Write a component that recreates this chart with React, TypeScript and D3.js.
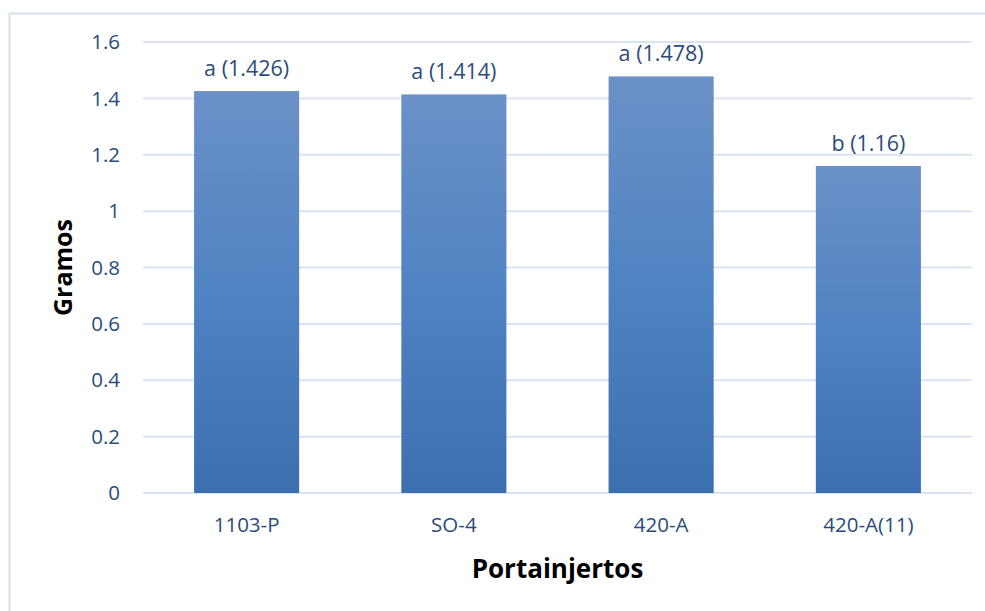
import React from 'react';
import * as d3 from 'd3';

const categories = ['1103-P', 'SO-4', '420-A', '420-A(11)'];
const values = [1.426, 1.414, 1.478, 1.16];
const letters = ['a', 'a', 'a', 'b'];
const yTicks = [0, 0.2, 0.4, 0.6, 0.8, 1, 1.2, 1.4, 1.6];

const W = 985;
const H = 611;
const plot = { left: 143, right: 972, top: 42, bottom: 493 };
const textColor = '#2b4c7b';
const font = "'Open Sans', sans-serif";

const App = () => {
    const x = d3.scaleBand()
        .domain(categories)
        .range([plot.left, plot.right])
        .paddingInner(0.493)
        .paddingOuter(0.2465);

    const y = d3.scaleLinear()
        .domain([0, 1.6])
        .range([plot.bottom, plot.top]);

    return (
        <svg width={W} height={H} style={{ position: 'absolute', left: 0, top: 0, background: '#fff' }}>
            <defs>
                <linearGradient id="barGrad" x1="0" y1="0" x2="0" y2="1">
                    <stop offset="0%" stopColor="#6b91c7" />
                    <stop offset="50%" stopColor="#4f83c3" />
                    <stop offset="100%" stopColor="#3b6fb0" />
                </linearGradient>
            </defs>
            <rect x={9.5} y={13.5} width={W} height={H} fill="#fff" stroke="#d5e0ef" strokeWidth={2} />

            {/* gridlines */}
            {yTicks.map(t => (
                <line key={t} x1={plot.left} x2={plot.right} y1={y(t)} y2={y(t)}
                    stroke="#d9e3f1" strokeWidth={2} />
            ))}

            {/* y tick labels */}
            {yTicks.map(t => (
                <text key={'t' + t} x={120} y={y(t)} dy="0.35em" textAnchor="end"
                    fontFamily={font} fontSize={20.5} fill={textColor}>{t}</text>
            ))}

            {/* bars */}
            {categories.map((c, i) => (
                <rect key={c} x={x(c)} y={y(values[i])} width={x.bandwidth()}
                    height={y(0) - y(values[i])} fill="url(#barGrad)" />
            ))}

            {/* bar labels */}
            {categories.map((c, i) => (
                <text key={'l' + c} x={(x(c) as number) + x.bandwidth() / 2} y={y(values[i]) - 15}
                    textAnchor="middle" fontFamily={font} fontSize={21.5} fill={textColor}>
                    {`${letters[i]} (${values[i]})`}
                </text>
            ))}

            {/* category labels */}
            {categories.map(c => (
                <text key={'c' + c} x={(x(c) as number) + x.bandwidth() / 2} y={532}
                    textAnchor="middle" fontFamily={font} fontSize={20.5} fill={textColor}>{c}</text>
            ))}

            <text x={(plot.left + plot.right) / 2} y={578} textAnchor="middle"
                fontFamily={font} fontSize={26} fontWeight="bold" fill="#000">Portainjertos</text>
            <text transform={`translate(72, ${(plot.top + plot.bottom) / 2}) rotate(-90)`} textAnchor="middle"
                fontFamily={font} fontSize={25} fontWeight="bold" fill="#000">Gramos</text>
        </svg>
    );
};

export default App;
